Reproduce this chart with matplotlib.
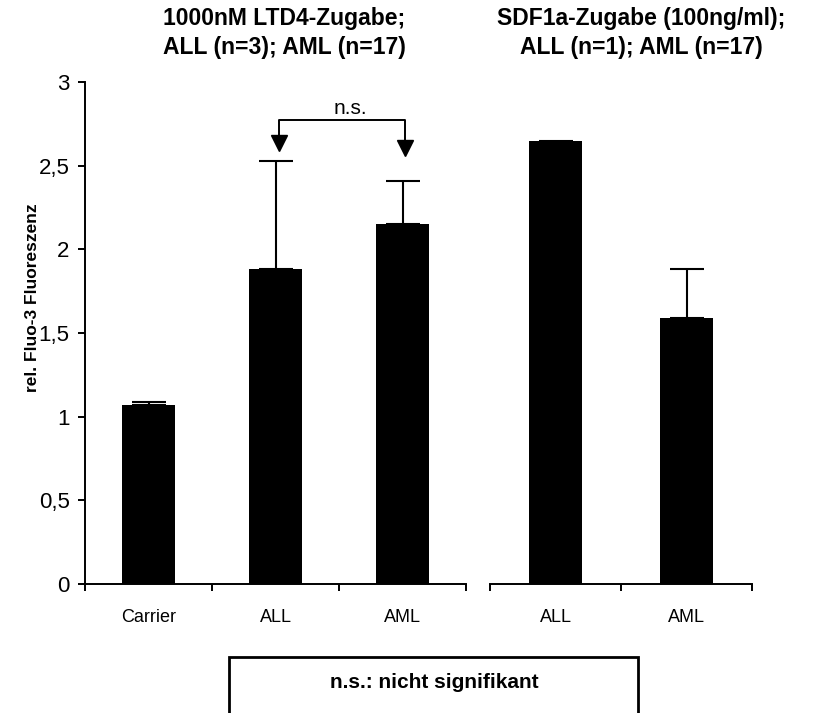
import numpy as np
import matplotlib
matplotlib.use("Agg")
import matplotlib.pyplot as plt
from matplotlib.patches import Rectangle

plt.rcParams['font.family'] = ['Liberation Sans', 'DejaVu Sans']

# LTD4-Zugabe (linke Gruppe)
ltd4_labels = ['Carrier', 'ALL', 'AML']
ltd4_values = [1.07, 1.88, 2.15]
ltd4_err = [0.02, 0.65, 0.26]

# SDF1a-Zugabe (rechte Gruppe)
sdf_labels = ['ALL', 'AML']
sdf_values = [2.65, 1.59]
sdf_err = [np.nan, 0.29]

yticks = [0, 0.5, 1, 1.5, 2, 2.5, 3]
ytick_labels = ['0', '0,5', '1', '1,5', '2', '2,5', '3']


def style_axes(ax, n, show_left):
    ax.set_xlim(-0.5, n - 0.5)
    ax.set_ylim(0, 3)
    ax.spines['top'].set_visible(False)
    ax.spines['right'].set_visible(False)
    ax.spines['bottom'].set_linewidth(1.4)
    ax.spines['left'].set_linewidth(1.4)
    ax.set_xticks(range(n))
    ax.set_xticks(np.arange(n + 1) - 0.5, minor=True)
    ax.tick_params(axis='x', which='major', length=0, pad=18, labelsize=13)
    ax.tick_params(axis='x', which='minor', length=5, width=1.4, direction='out')
    if show_left:
        ax.set_yticks(yticks)
        ax.set_yticklabels(ytick_labels)
        ax.tick_params(axis='y', length=5, width=1.4, pad=6, labelsize=16)
    else:
        ax.spines['left'].set_visible(False)
        ax.set_yticks([])


fig = plt.figure(figsize=(8.19, 7.13), dpi=100)

ax1 = fig.add_axes([85 / 819, 129 / 713, 381 / 819, 502 / 713])
x1 = np.arange(len(ltd4_labels))
ax1.bar(x1, ltd4_values, width=0.42, color='black')
ax1.errorbar(x1, ltd4_values, yerr=[np.zeros(3), ltd4_err], fmt='none',
             ecolor='black', elinewidth=1.5, capsize=12, capthick=1.5)
ax1.set_xticklabels(ltd4_labels)
style_axes(ax1, 3, True)
ax1.set_ylabel('rel. Fluo-3 Fluoreszenz', fontsize=12.5, fontweight='bold')
ax1.yaxis.set_label_coords(-0.118, 0.57)

# Signifikanz-Klammer
bx1, bx2 = 1.03, 2.02
ax1.plot([bx1, bx1, bx2, bx2], [2.66, 2.775, 2.775, 2.63], color='black', lw=1.4)
ax1.plot([bx1], [2.635], marker='v', color='black', markersize=12)
ax1.plot([bx2], [2.605], marker='v', color='black', markersize=12)
ax1.text(1.59, 2.785, 'n.s.', ha='center', va='bottom', fontsize=15)

ax2 = fig.add_axes([490 / 819, 129 / 713, 262 / 819, 502 / 713])
x2 = np.arange(len(sdf_labels))
ax2.bar(x2, sdf_values, width=0.4, color='black')
ax2.errorbar(x2, sdf_values, yerr=[np.zeros(2), sdf_err], fmt='none',
             ecolor='black', elinewidth=1.5, capsize=12, capthick=1.5)
ax2.set_xticklabels(sdf_labels)
style_axes(ax2, 2, False)

fig.text(284 / 819, 1 - 33 / 713, '1000nM LTD4-Zugabe;\nALL (n=3); AML (n=17)',
         ha='center', va='center', fontsize=16.5, fontweight='bold', linespacing=1.3)
fig.text(641 / 819, 1 - 33 / 713, 'SDF1a-Zugabe (100ng/ml);\nALL (n=1); AML (n=17)',
         ha='center', va='center', fontsize=16.5, fontweight='bold', linespacing=1.3)

# Legendenkasten unten
fig.patches.append(Rectangle((229 / 819, -0.05), 409 / 819, 0.05 + 56 / 713,
                             transform=fig.transFigure, fill=False,
                             edgecolor='black', linewidth=2, clip_on=False))
fig.text(434 / 819, 1 - 683 / 713, 'n.s.: nicht signifikant', ha='center', va='center',
         fontsize=15, fontweight='bold')

fig.savefig('out.png', dpi=100)
